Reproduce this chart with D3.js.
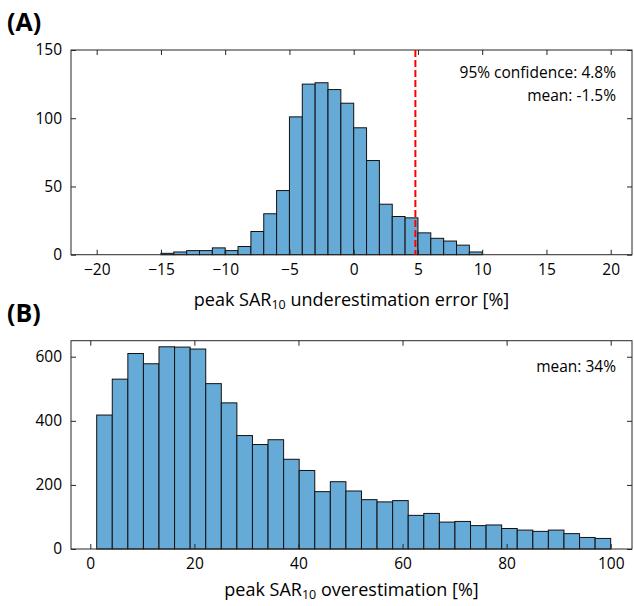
<!DOCTYPE html>
<html>
<head>
<meta charset="utf-8">
<script src="https://d3js.org/d3.v7.min.js"></script>
<style>
    body { margin: 0; background: white; }
    text { font-family: "Open Sans", sans-serif; fill: #000; }
    .tick text { font-size: 15px; }
</style>
</head>
<body>
<svg id="chart" width="634" height="606"></svg>
<script>
// panel A: underestimation error histogram, 1% bins from -20 to 20
let edgesA_start = -20
let edgesA_width = 1
let countsA = [0, 0, 0, 0, 0,
    1, 2, 3, 3, 5, 3, 6, 17, 30, 47,
    101, 125, 126, 121, 111, 93, 69, 37, 28, 27,
    16, 12, 10, 7, 2,
    0, 0, 0, 0, 0, 0, 0, 0, 0, 0]
let ticksAx = [-20, -15, -10, -5, 0, 5, 10, 15, 20]
let ticksAy = [0, 50, 100, 150]
let confidenceA = 4.8
let notesA = ["95% confidence: 4.8%", "mean: -1.5%"]

// panel B: overestimation histogram, 33 bins ending at 100
let edgesB_start = 1.23
let edgesB_width = 2.993
let countsB = [418, 530, 610, 578, 631, 630, 624, 516, 456, 354,
    326, 341, 280, 245, 179, 210, 181, 154, 147, 151,
    105, 111, 84, 86, 73, 75, 64, 59, 55, 59,
    48, 36, 33]
let ticksBx = [0, 20, 40, 60, 80, 100]
let ticksBy = [0, 200, 400, 600]
let notesB = ["mean: 34%"]

let svg = d3.select("#chart")
let barFill = "#66aad7"
let axColor = "#262626"

function panel(opt) {
    let g = svg.append("g")
    let x = d3.scaleLinear().domain(opt.xref).range(opt.xpx)
    let y = d3.scaleLinear().domain(opt.ydom).range([opt.bottom, opt.top])

    let bins = opt.counts.map((c, i) => ({
        x0: opt.start + i * opt.width,
        x1: opt.start + (i + 1) * opt.width,
        n: c
    }))

    g.selectAll("rect.bar")
        .data(bins)
        .enter()
        .append("rect")
        .attr("class", "bar")
        .attr("x", d => x(d.x0))
        .attr("width", d => x(d.x1) - x(d.x0))
        .attr("y", d => y(d.n))
        .attr("height", d => y(0) - y(d.n))
        .attr("fill", barFill)
        .attr("stroke", "#111")
        .attr("stroke-width", 1)

    // inward ticks on all four sides, like a boxed matlab axes
    let xb = d3.axisBottom(x).tickValues(opt.xticks).tickSizeInner(-5).tickSizeOuter(0).tickPadding(9)
    let xt = d3.axisTop(x).tickValues(opt.xticks).tickSizeInner(-5).tickSizeOuter(0).tickFormat("")
    let yl = d3.axisLeft(y).tickValues(opt.yticks).tickSizeInner(-5).tickSizeOuter(0).tickPadding(9)
    let yr = d3.axisRight(y).tickValues(opt.yticks).tickSizeInner(-5).tickSizeOuter(0).tickFormat("")

    let axes = [
        [xb, "translate(0," + opt.bottom + ")"],
        [xt, "translate(0," + opt.top + ")"],
        [yl, "translate(" + opt.left + ",0)"],
        [yr, "translate(" + opt.right + ",0)"]
    ]
    axes.forEach(a => {
        let ag = g.append("g").attr("transform", a[1]).call(a[0])
        ag.select(".domain").remove()
        ag.selectAll("line").attr("stroke", axColor)
        ag.selectAll("text").style("font-size", "15.5px").attr("fill", "#000")
    })

    g.append("rect")
        .attr("x", opt.left)
        .attr("y", opt.top)
        .attr("width", opt.right - opt.left)
        .attr("height", opt.bottom - opt.top)
        .attr("fill", "none")
        .attr("stroke", axColor)
        .attr("stroke-width", 1)

    if (opt.vline !== undefined) {
        g.append("line")
            .attr("x1", x(opt.vline)).attr("x2", x(opt.vline))
            .attr("y1", opt.top).attr("y2", opt.bottom)
            .attr("stroke", "#ff0000")
            .attr("stroke-width", 2)
            .attr("stroke-dasharray", "7,3")
    }

    opt.notes.forEach((t, i) => {
        g.append("text")
            .attr("x", opt.right - 16)
            .attr("y", opt.top + opt.noteY + i * 23)
            .attr("text-anchor", "end")
            .style("font-size", "15.5px")
            .text(t)
    })

    let lab = g.append("text")
        .attr("x", (opt.left + opt.right) / 2)
        .attr("y", opt.bottom + opt.labY)
        .attr("text-anchor", "middle")
        .style("font-size", "18px")
    lab.append("tspan").text("peak SAR")
    lab.append("tspan").attr("dy", 3).style("font-size", "12.5px").text("10")
    lab.append("tspan").attr("dy", -3).text(" " + opt.xlabel)

    g.append("text")
        .attr("x", 7)
        .attr("y", opt.top - 19)
        .style("font-size", "25px")
        .style("font-weight", "bold")
        .text(opt.tag)
}

panel({
    xref: [-20, 20], xpx: [96.7, 610.7],
    ydom: [0, 150],
    left: 71, right: 632, top: 50, bottom: 254.7,
    start: edgesA_start, width: edgesA_width, counts: countsA,
    xticks: ticksAx, yticks: ticksAy,
    vline: confidenceA,
    notes: notesA, noteY: 28,
    xlabel: "underestimation error [%]", labY: 51,
    tag: "(A)"
})

panel({
    xref: [0, 100], xpx: [90.3, 610.7],
    ydom: [0, 650],
    left: 71, right: 632, top: 340.7, bottom: 549,
    start: edgesB_start, width: edgesB_width, counts: countsB,
    xticks: ticksBx, yticks: ticksBy,
    notes: notesB, noteY: 31,
    xlabel: "overestimation [%]", labY: 47,
    tag: "(B)"
})
</script>
</body>
</html>
